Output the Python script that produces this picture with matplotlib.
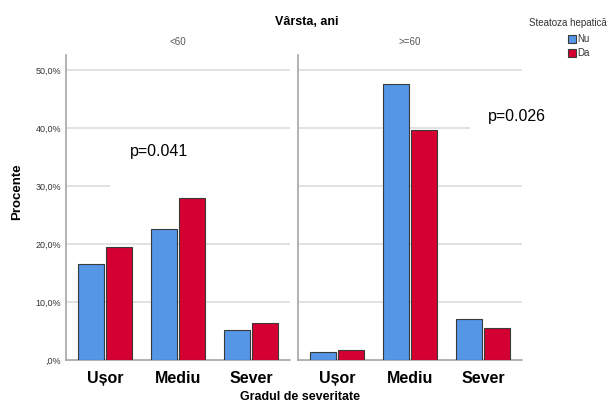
import numpy as np
import matplotlib.pyplot as plt
from matplotlib.patches import Rectangle
import matplotlib.transforms as mtransforms

# ------------------------------------------------------------
# Data (percent)
# ------------------------------------------------------------
categories = ["Ușor", "Mediu", "Sever"]
panels = ["<60", ">=60"]
nu_lt60 = [16.5, 22.6, 5.2]
da_lt60 = [19.5, 27.9, 6.4]
nu_ge60 = [1.4, 47.6, 7.1]
da_ge60 = [1.7, 39.7, 5.5]
p_values = ["p=0.041", "p=0.026"]
yticks = [0, 10, 20, 30, 40, 50]
ytick_labels = [",0%", "10,0%", "20,0%", "30,0%", "40,0%", "50,0%"]

BLUE = "#5596E6"
RED = "#D50032"
EDGE = "#3a3a3a"
GRID = "#DADADA"

plt.rcParams["font.family"] = ["Liberation Sans", "DejaVu Sans"]

fig = plt.figure(figsize=(6.14, 4.03), dpi=100)
W, H = 614, 403
ax_left = fig.add_axes([66 / W, 1 - 360 / H, 224 / W, 305 / H])
ax_right = fig.add_axes([298 / W, 1 - 360 / H, 224 / W, 305 / H])

x = np.arange(len(categories))
bw = 0.355
off = 0.19

series = [(nu_lt60, da_lt60), (nu_ge60, da_ge60)]
for i, ax in enumerate([ax_left, ax_right]):
    nu, da = series[i]
    ax.bar(x - off, nu, width=bw, color=BLUE, edgecolor=EDGE, linewidth=0.8, zorder=3)
    ax.bar(x + off, da, width=bw, color=RED, edgecolor=EDGE, linewidth=0.8, zorder=3)
    ax.set_xlim(-0.53, 2.53)
    ax.set_ylim(0, 52.6)
    ax.set_yticks(yticks)
    for yv in yticks[1:]:
        ax.axhline(yv, color=GRID, linewidth=1.1, zorder=1)
    ax.set_xticks(x)
    ax.set_xticklabels(categories, fontsize=11.5, fontweight="bold")
    ax.tick_params(axis="both", length=0)
    ax.tick_params(axis="x", pad=8)
    for s in ["top", "right"]:
        ax.spines[s].set_visible(False)
    for s in ["left", "bottom"]:
        ax.spines[s].set_color("#A6A6A6")
        ax.spines[s].set_linewidth(1.2)
    ax.set_title(panels[i], fontsize=7, color="#555555", pad=7)

ax_left.set_yticklabels(ytick_labels, fontsize=6.5, color="#333333")
ax_right.set_yticklabels([])
ax_left.set_ylabel("Procente", fontsize=9.5, fontweight="bold")
ax_left.yaxis.set_label_coords(-0.19, 0.551)

# white text boxes covering gridlines, as in the SPSS output
trans_l = mtransforms.blended_transform_factory(ax_left.transAxes, ax_left.transData)
ax_left.add_patch(Rectangle((0.196, 29), 0.804, 9.5, transform=trans_l,
                            facecolor="white", edgecolor="none", zorder=2))
ax_left.text(0.285, 36.0, p_values[0], transform=trans_l, fontsize=11.5,
             va="center", ha="left", zorder=4)

trans_r = mtransforms.blended_transform_factory(ax_right.transAxes, ax_right.transData)
ax_right.add_patch(Rectangle((0.768, 37.5), 0.232, 9.0, transform=trans_r,
                             facecolor="white", edgecolor="none", zorder=2))
ax_right.text(0.85, 42.0, p_values[1], transform=trans_r, fontsize=11.5,
              va="center", ha="left", zorder=4, clip_on=False)

fig.text(307 / W, 1 - 22 / H, "Vârsta, ani", fontsize=9, fontweight="bold",
         ha="center", va="center")
fig.text(300 / W, 1 - 397 / H, "Gradul de severitate", fontsize=9, fontweight="bold",
         ha="center", va="center")

# legend
fig.text(529 / W, 1 - 23 / H, "Steatoza hepatică", fontsize=7, color="#333333",
         ha="left", va="center")
for j, (lab, col) in enumerate([("Nu", BLUE), ("Da", RED)]):
    yc = 39 + 14 * j
    fig.patches.append(Rectangle((568 / W, 1 - (yc + 4) / H), 8 / W, 8 / H,
                                 transform=fig.transFigure, facecolor=col,
                                 edgecolor=EDGE, linewidth=0.8))
    fig.text(577 / W, 1 - yc / H, lab, fontsize=7, color="#333333",
             ha="left", va="center")

fig.savefig("out.png", dpi=100)
